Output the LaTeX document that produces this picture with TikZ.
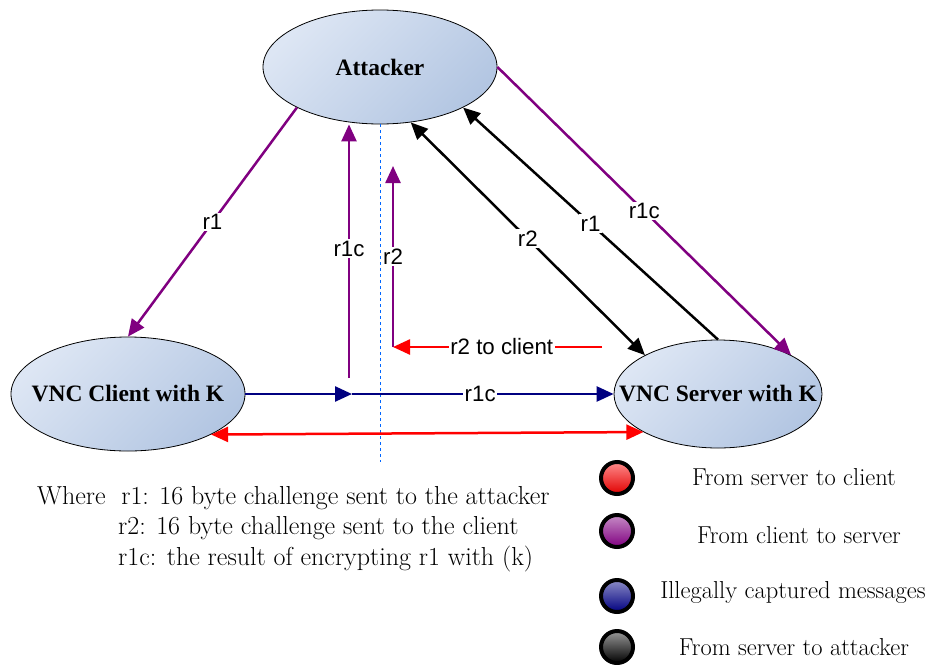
\documentclass[tikz,border=0pt]{standalone}
\usepackage{fontspec}
\newfontfamily\lblfont{Liberation Sans}
\newfontfamily\entfont{Liberation Serif}
\usetikzlibrary{shapes.geometric,arrows.meta}
\definecolor{ellLight}{HTML}{DDE6F4}
\definecolor{ellDark}{HTML}{B3C6E2}
\definecolor{vpurple}{HTML}{800080}
\definecolor{vnavy}{HTML}{000080}
\definecolor{vred}{HTML}{FF0000}
\tikzset{
  entity/.style={ellipse, draw=black, line width=0.8pt, top color=ellLight, bottom color=ellDark, shading angle=45,
    inner sep=0pt, font=\entfont\fontsize{23.5}{27}\selectfont\bfseries},
  conn/.style={line width=2.5pt, -{Triangle[length=17pt,width=15pt]}},
  conn2/.style={line width=2.5pt, {Triangle[length=17pt,width=15pt]}-{Triangle[length=17pt,width=15pt]}},
  lbl/.style={fill=white, inner sep=1.5pt, font=\lblfont\fontsize{22.3}{25}\selectfont, text=black},
  ball/.style={circle, draw=black, line width=4pt, minimum size=32pt, inner sep=0pt, shading angle=45},
  legtxt/.style={font=\fontsize{24.5}{28}\selectfont, anchor=center},
  note/.style={font=\fontsize{26}{30}\selectfont, anchor=base west, inner sep=0pt}
}
\begin{document}
\begin{tikzpicture}[x=1pt,y=-1pt]
\useasboundingbox (0,0) rectangle (933,664);
% nodes
\node[entity, minimum width=234pt, minimum height=114pt] (attacker) at (380,67) {\makebox[0pt]{Attacker}};
\node[entity, minimum width=234pt, minimum height=114pt] (client) at (128,394) {\makebox[0pt]{VNC Client with K}};
\node[entity, minimum width=208pt, minimum height=108pt] (server) at (718,394) {\makebox[0pt]{VNC Server with K}};
% helper coordinates
\coordinate (c1) at (349,378);
\coordinate (c2) at (393,347);
\coordinate (c2top) at (393,166);
\coordinate (c3) at (602,347);
\coordinate (mid) at (352,394);
\coordinate (dtop) at (380,124);
\coordinate (dbot) at (380,462);
% dashed divider
\draw[dashed, draw=blue!60!cyan, line width=0.8pt] (dtop) -- (dbot);
% r1 attacker -> client
\draw[conn, vpurple] (attacker.206) -- node[lbl, pos=0.5] {r1} (client.north);
% r1c up to attacker
\draw[conn, vpurple] (c1) -- node[lbl, pos=0.51] {r1c} (c1 |- attacker.south);
% r2 up
\draw[conn, vpurple] (c2) -- node[lbl, pos=0.5] {r2} (c2top);
% r2 to client red
\draw[conn, vred] (c3) -- node[lbl, pos=0.48] {r2 to client} (c2);
% black r2 (double)
\draw[conn2, black] (attacker.-61) -- node[lbl, pos=0.5] {r2} (server.152);
% black r1
\draw[conn, black] (server.north) -- node[lbl, pos=0.5] {r1} (attacker.-26);
% purple r1c attacker -> server
\draw[conn, vpurple] (attacker.east) -- node[lbl, pos=0.5] {r1c} (server.28);
% blue r1c client -> server
\draw[conn, vnavy] (client.east) -- (mid);
\draw[conn, vnavy] (mid) -- node[lbl, pos=0.49] {r1c} (server.west);
% red double
\draw[conn2, vred] (client.-26) -- (server.207);
% notes
\node[note] (n1) at (37,504) {Where\ \ r1: 16 byte challenge sent to the attacker};
\node[note] (n2) at (118,534) {r2: 16 byte challenge sent to the client};
\node[note] (n3) at (118,565) {r1c: the result of encrypting r1 with (k)};
% legend
\node[ball, top color=red!45, bottom color=red!88!black] (b1) at (617,478) {};
\node[ball, top color=vpurple!45, bottom color=vpurple] (b2) at (617,531) {};
\node[ball, top color=vnavy!45, bottom color=vnavy] (b3) at (617,596) {};
\node[ball, top color=black!40, bottom color=black] (b4) at (617,647) {};
\node[legtxt] (t1) at (794,477) {From server to client};
\node[legtxt] (t2) at (799,535) {From client to server};
\node[legtxt] (t3) at (793,592) {Illegally captured messages};
\node[legtxt] (t4) at (794,647) {From server to attacker};
\end{tikzpicture}
\end{document}
